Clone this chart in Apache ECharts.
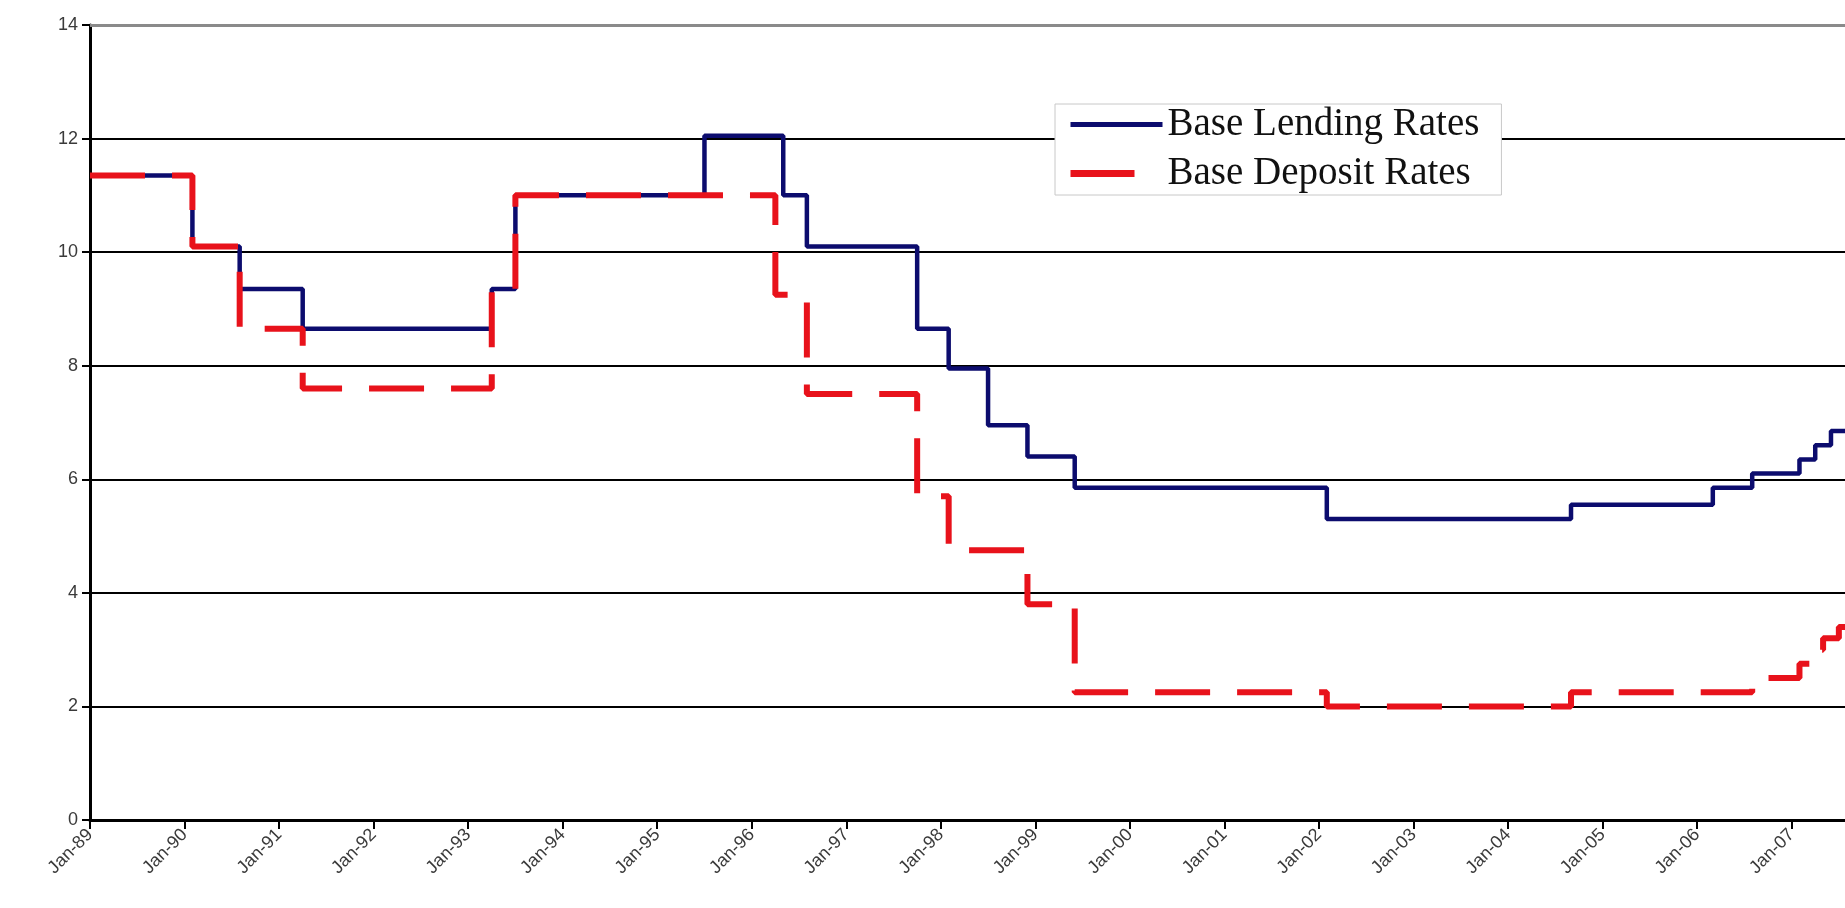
<!DOCTYPE html>
<html>
<head>
<meta charset="utf-8">
<script src="https://cdn.jsdelivr.net/npm/echarts@6/dist/echarts.min.js"></script>
<style>
  html, body { margin: 0; padding: 0; background: #ffffff; }
  #chart { width: 1845px; height: 908px; }
</style>
</head>
<body>
<div id="chart"></div>
<script>
// Year tick labels along the time axis
const yearLabels = ['Jan-89', 'Jan-90', 'Jan-91', 'Jan-92', 'Jan-93', 'Jan-94', 'Jan-95',
  'Jan-96', 'Jan-97', 'Jan-98', 'Jan-99', 'Jan-00', 'Jan-01', 'Jan-02', 'Jan-03',
  'Jan-04', 'Jan-05', 'Jan-06', 'Jan-07'];

// Base lending rate (%): month of each change and the new level
const lendingMonths = ['1989-01', '1990-02', '1990-08', '1991-04', '1993-04', '1993-07',
  '1995-07', '1996-05', '1996-08', '1997-10', '1998-02', '1998-07', '1998-12', '1999-06',
  '2002-02', '2004-09', '2006-03', '2006-08', '2007-02', '2007-04', '2007-06', '2007-08'];
const lendingRates = [11.35, 10.1, 9.35, 8.65, 9.35, 11.0,
  12.05, 11.0, 10.1, 8.65, 7.95, 6.95, 6.4, 5.85,
  5.3, 5.55, 5.85, 6.1, 6.35, 6.6, 6.85, 6.85];

// Base deposit rate (%): month of each change and the new level
const depositMonths = ['1989-01', '1990-02', '1990-08', '1991-04', '1993-04', '1993-07',
  '1996-04', '1996-08', '1997-10', '1998-02', '1998-12', '1999-06',
  '2002-02', '2004-09', '2006-08', '2007-02', '2007-04', '2007-05', '2007-07', '2007-08'];
const depositRates = [11.35, 10.1, 8.65, 7.6, 9.3, 11.0,
  9.25, 7.5, 5.7, 4.75, 3.8, 2.25,
  2.0, 2.25, 2.5, 2.75, 3.0, 3.2, 3.4, 3.4];

const seriesNames = ['Base Lending Rates', 'Base Deposit Rates'];

// month string -> fractional year on the value axis
function toYear(m) {
  const parts = m.split('-').map(Number);
  return parts[0] + (parts[1] - 1) / 12;
}
function pairs(months, values) {
  return months.map((m, i) => [toYear(m), values[i]]);
}

const chart = echarts.init(document.getElementById('chart'), null, { renderer: 'canvas' });

chart.setOption({
  animation: false,
  backgroundColor: '#ffffff',
  grid: { left: 90, right: 0, top: 25, bottom: 88, containLabel: false },
  legend: {
    left: 1055,
    top: 104,
    orient: 'vertical',
    itemWidth: 92,
    itemHeight: 14,
    itemGap: 10,
    padding: [1, 22, 2, 12],
    backgroundColor: '#ffffff',
    borderColor: '#c8c8c8',
    borderWidth: 1,
    borderRadius: 0,
    itemStyle: { opacity: 0 },
    textStyle: { fontFamily: 'Liberation Serif', fontSize: 39, lineHeight: 37, color: '#111111' },
    data: [
      { name: seriesNames[0], lineStyle: { width: 5, type: 'solid' } },
      { name: seriesNames[1], lineStyle: { width: 7, type: [64, 60] } }
    ]
  },
  xAxis: {
    type: 'value',
    min: 1989,
    max: 2007.565,
    interval: 1,
    axisLine: { show: true, onZero: false, lineStyle: { color: '#000000', width: 3 } },
    axisTick: { show: true, length: 9, lineStyle: { color: '#000000', width: 2 } },
    splitLine: { show: false },
    axisLabel: {
      rotate: 45,
      margin: 12,
      fontFamily: 'Liberation Sans',
      fontSize: 18,
      color: '#3a3a3a',
      showMaxLabel: false,
      formatter: function (v) {
        const i = Math.round(v - 1989);
        return Math.abs(v - 1989 - i) < 1e-6 && yearLabels[i] ? yearLabels[i] : '';
      }
    }
  },
  yAxis: {
    type: 'value',
    min: 0,
    max: 14,
    interval: 2,
    axisLine: { show: true, lineStyle: { color: '#000000', width: 3 } },
    axisTick: { show: true, length: 8, lineStyle: { color: '#000000', width: 2 } },
    axisLabel: { margin: 12, fontFamily: 'Liberation Sans', fontSize: 18, color: '#3a3a3a' },
    splitLine: { show: true, showMaxLine: false, lineStyle: { color: '#000000', width: 2 } }
  },
  series: [
    {
      name: seriesNames[0],
      type: 'line',
      step: 'end',
      symbol: 'none',
      showSymbol: false,
      lineStyle: { color: '#0c0c6e', width: 4.5, type: 'solid' },
      itemStyle: { color: '#0c0c6e' },
      data: pairs(lendingMonths, lendingRates),
      markLine: {
        silent: true,
        symbol: 'none',
        label: { show: false },
        lineStyle: { color: '#8a8a8a', width: 3, type: 'solid' },
        data: [{ yAxis: 14 }]
      },
      z: 2
    },
    {
      name: seriesNames[1],
      type: 'line',
      step: 'end',
      symbol: 'none',
      showSymbol: false,
      lineStyle: { color: '#e8121b', width: 6, type: [55, 27] },
      itemStyle: { color: '#e8121b' },
      data: pairs(depositMonths, depositRates),
      z: 3
    }
  ]
});
</script>
</body>
</html>
